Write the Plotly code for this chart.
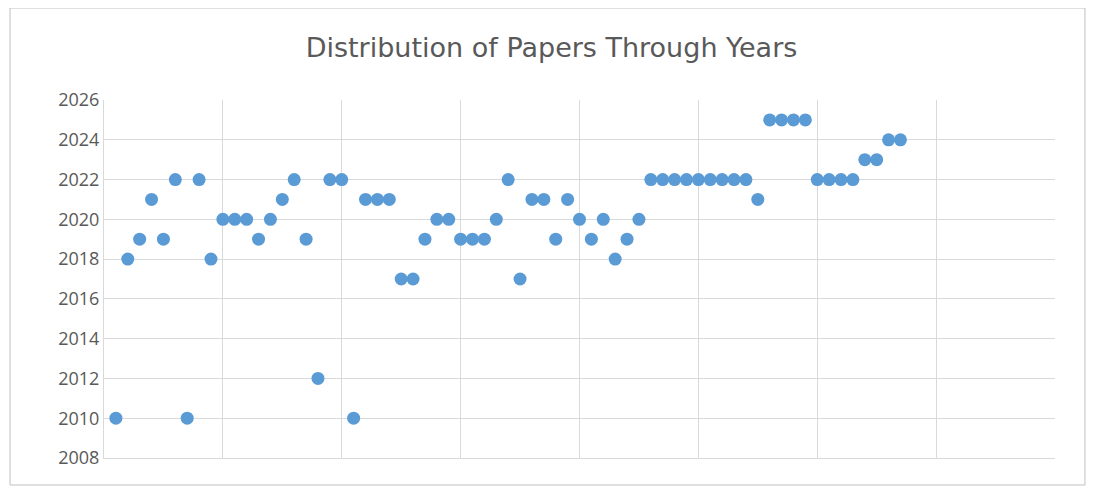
import plotly.graph_objects as go

idx = list(range(1, 68))
years = [2010, 2018, 2019, 2021, 2019, 2022, 2010, 2022, 2018, 2020,
         2020, 2020, 2019, 2020, 2021, 2022, 2019, 2012, 2022, 2022,
         2010, 2021, 2021, 2021, 2017, 2017, 2019, 2020, 2020, 2019,
         2019, 2019, 2020, 2022, 2017, 2021, 2021, 2019, 2021, 2020,
         2019, 2020, 2018, 2019, 2020, 2022, 2022, 2022, 2022, 2022,
         2022, 2022, 2022, 2022, 2021, 2025, 2025, 2025, 2025, 2022,
         2022, 2022, 2022, 2023, 2023, 2024, 2024]

fig = go.Figure(go.Scatter(x=idx, y=years, mode="markers",
                           marker=dict(color="#5B9BD5", size=13)))
grid = "#D9D9D9"
fig.update_layout(
    width=1087, height=484, plot_bgcolor="white", paper_bgcolor="white",
    margin=dict(l=96, r=40, t=92, b=34),
    title=dict(text="Distribution of Papers Through Years", x=0.5, xanchor="center",
               y=1 - 40 / 484, yanchor="middle",
               font=dict(family="DejaVu Sans, sans-serif", size=27, color="#595959")),
    font=dict(family="Open Sans, sans-serif", color="#595959", size=18),
    showlegend=False,
    xaxis=dict(range=[0, 80], dtick=10, showticklabels=False, showgrid=True,
               gridcolor=grid, zeroline=False, showline=True, linecolor=grid),
    yaxis=dict(range=[2008, 2026], dtick=2, showgrid=True, gridcolor=grid,
               zeroline=False, showline=True, linecolor=grid, ticks="",
               tickfont=dict(size=18, color="#595959")),
    shapes=[dict(type="rect", xref="paper", yref="paper",
                 x0=-0.0988, x1=1.0315, y0=-0.0754, y1=1.257,
                 line=dict(color="#BFBFBF", width=1))],
)
fig.write_html("out.html")
